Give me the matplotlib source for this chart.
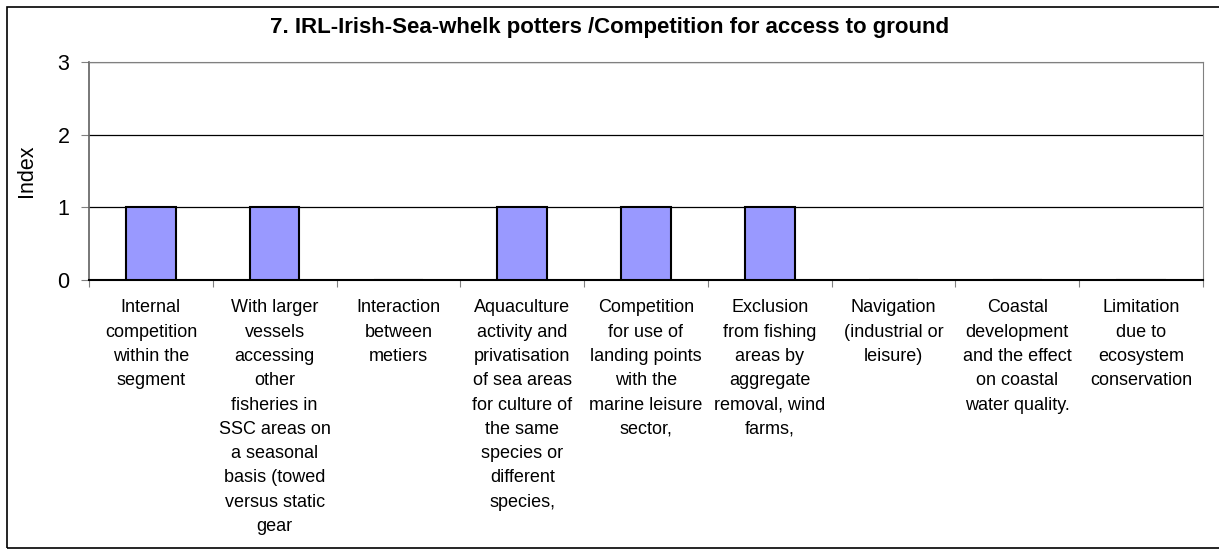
"""recreate: IRL Irish Sea whelk potters - competition for access to ground"""

import matplotlib
matplotlib.use("Agg")
import matplotlib.pyplot as plt
from matplotlib.patches import Rectangle

plt.rcParams['font.family'] = ['Liberation Sans', 'DejaVu Sans']

title = "7. IRL-Irish-Sea-whelk potters /Competition for access to ground"
categories = [
  "Internal\ncompetition\nwithin the\nsegment",
  "With larger\nvessels\naccessing\nother\nfisheries in\nSSC areas on\na seasonal\nbasis (towed\nversus static\ngear",
  "Interaction\nbetween\nmetiers",
  "Aquaculture\nactivity and\nprivatisation\nof sea areas\nfor culture of\nthe same\nspecies or\ndifferent\nspecies,",
  "Competition\nfor use of\nlanding points\nwith the\nmarine leisure\nsector,",
  "Exclusion\nfrom fishing\nareas by\naggregate\nremoval, wind\nfarms,",
  "Navigation\n(industrial or\nleisure)",
  "Coastal\ndevelopment\nand the effect\non coastal\nwater quality.",
  "Limitation\ndue to\necosystem\nconservation",
]
values = [1, 1, 0, 1, 1, 1, 0, 0, 0]
yticks = [0, 1, 2, 3]

W, H = 1219, 554
fig = plt.figure(figsize=(W/100, H/100), dpi=100)
ax = fig.add_axes([89/W, 1 - 280/H, (1203 - 89)/W, (280 - 62)/H])

x = list(range(len(categories)))
ax.bar(x, values, width=0.4, color='#9999FF', edgecolor='black', linewidth=1.5, zorder=3)

ax.set_xlim(-0.5, len(categories) - 0.5)
ax.set_ylim(0, 3)
ax.set_yticks(yticks)
ax.set_yticklabels([str(v) for v in yticks], fontsize=15.5)
ax.yaxis.grid(True, color='black', linewidth=0.9, zorder=0)

# boundaries get the tick marks, centers get the labels
ax.set_xticks([i - 0.5 for i in range(len(categories) + 1)])
ax.set_xticklabels([])
ax.set_xticks(x, minor=True)
ax.set_xticklabels(categories, minor=True, fontsize=13, linespacing=1.56, va='top')
ax.tick_params(axis='x', which='minor', length=0, pad=14)
ax.tick_params(axis='x', which='major', length=5, color='#808080', direction='out')
ax.tick_params(axis='y', length=6, color='#808080', pad=8)

for side in ['top', 'right']:
  ax.spines[side].set_color('#808080')
ax.spines['left'].set_color('#606060')
ax.spines['left'].set_linewidth(1.2)
ax.spines['bottom'].set_color('black')
ax.spines['bottom'].set_linewidth(1.5)

fig.text(27/W, 1 - 171/H, "Index", rotation=90, ha='center', va='center', fontsize=15.5)
fig.text(0.5, 1 - 27/H, title, ha='center', va='center', fontsize=16, fontweight='bold')

# outer chart border
fig.patches.append(Rectangle((7/W, 6/H), 1.0, 1 - 13/H, transform=fig.transFigure,
                             fill=False, edgecolor='black', linewidth=1.2))

fig.savefig("out.png", dpi=100)
